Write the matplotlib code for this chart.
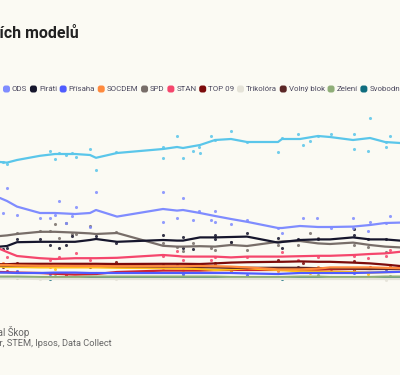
import matplotlib.pyplot as plt
from matplotlib.patches import FancyBboxPatch
from matplotlib.transforms import IdentityTransform

plt.rcParams['font.family'] = ['Roboto', 'DejaVu Sans']

# ---- data: smoothed model averages (%), days from start ----
days = [0, 14, 34, 80, 110, 150, 180, 192, 234, 326, 354, 366, 400,
        430, 462, 494, 556, 564, 600, 636, 660, 706, 740, 770, 800]

ano = [29.75, 29.6, 30.25, 31.3, 31.75, 31.75, 31.5, 30.8, 32.0, 33.0, 33.5, 33.25, 34.0,
       35.25, 35.5, 34.75, 34.75, 35.5, 35.5, 36.25, 36.0, 35.25, 35.75, 34.75, 34.5]
ods = [20.75, 20.0, 18.6, 17.0, 17.0, 16.75, 17.0, 17.75, 16.1, 18.0, 17.6, 17.75, 17.0,
       16.25, 15.5, 14.8, 13.25, 13.25, 13.75, 13.5, 13.5, 13.6, 14.0, 14.5, 14.6]
pirati = [8.6, 8.75, 9.7, 9.8, 9.8, 9.8, 10.25, 10.5, 9.8, 10.25, 10.1, 10.1, 10.9,
          10.9, 11.0, 11.1, 9.6, 9.75, 10.25, 10.4, 10.4, 10.9, 10.4, 10.4, 10.1]
spd = [11.25, 11.4, 11.75, 12.3, 12.3, 12.1, 11.9, 11.75, 12.0, 8.8, 8.6, 8.6, 8.7,
       8.6, 9.0, 8.75, 9.8, 9.9, 10.0, 9.4, 9.25, 9.6, 9.0, 8.6, 8.4]
stan = [8.0, 7.25, 6.25, 5.7, 5.5, 5.7, 5.7, 5.7, 5.8, 6.5, 6.25, 6.1, 6.1,
        6.1, 5.9, 6.1, 6.1, 6.1, 6.2, 6.3, 6.3, 6.5, 6.75, 6.9, 7.3]
top09 = [4.2, 4.2, 4.3, 4.3, 4.3, 4.3, 4.3, 4.3, 4.25, 4.3, 4.3, 4.3, 4.25,
         4.4, 4.6, 4.7, 4.8, 4.8, 4.9, 4.8, 4.8, 4.6, 4.4, 4.1, 3.75]
volny = [3.9, 3.9, 3.9, 3.9, 3.8, 3.8, 3.8, 3.8, 3.7, 3.6, 3.6, 3.6, 3.5,
         3.4, 3.3, 3.3, 3.3, 3.3, 3.3, 3.2, 3.2, 3.1, 3.0, 3.0, 3.0]
socdem = [4.0, 4.0, 3.9, 3.8, 3.8, 3.75, 3.75, 3.75, 3.7, 3.7, 3.7, 3.7, 3.75,
          3.7, 3.6, 3.4, 2.9, 2.9, 2.9, 3.1, 3.4, 3.4, 3.4, 3.3, 3.2]
kdu = [3.6, 3.5, 3.5, 3.4, 3.4, 3.4, 3.4, 3.4, 3.3, 3.2, 3.1, 3.1, 3.0,
       2.75, 2.9, 3.2, 2.75, 2.7, 2.4, 2.3, 2.3, 2.2, 2.1, 2.2, 2.3]
kscm = [2.25, 2.2, 2.1, 2.0, 1.8, 1.6, 1.7, 1.75, 2.25, 2.6, 2.6, 2.6, 2.6,
        2.7, 2.75, 2.75, 2.75, 2.75, 2.8, 2.8, 2.9, 3.0, 3.0, 3.1, 3.25]
prisaha = [2.1, 2.1, 2.0, 2.0, 2.1, 2.1, 2.0, 2.0, 2.0, 2.0, 2.0, 2.0, 2.0,
           2.0, 2.0, 1.9, 1.75, 1.8, 2.0, 2.0, 2.0, 2.0, 2.1, 2.2, 2.3]
zeleni = [1.1, 1.1, 1.1, 1.0, 1.0, 1.0, 1.1, 1.1, 1.1, 1.1, 1.1, 1.1, 1.1,
          1.1, 1.0, 1.0, 1.0, 1.0, 1.1, 1.1, 1.0, 1.0, 1.0, 1.1, 1.1]
svobodni = [0.9, 0.9, 0.8, 0.8, 0.8, 0.8, 0.8, 0.8, 0.8, 0.8, 0.8, 0.8, 0.8,
            0.8, 0.8, 0.8, 0.8, 0.8, 0.8, 0.8, 0.8, 0.9, 0.8, 0.8, 0.8]
trikolora = [0.6, 0.6, 0.6, 0.5, 0.5, 0.5, 0.5, 0.5, 0.5, 0.5, 0.5, 0.5, 0.5,
             0.5, 0.5, 0.5, 0.5, 0.5, 0.5, 0.5, 0.5, 0.5, 0.5, 0.5, 0.5]

# ---- individual polls (day, %) ----
ano_polls = [(6, 29.8), (14, 29.3), (100, 32.6), (110, 30.5), (118, 32.0), (132, 31.5),
             (144, 32.0), (152, 31.0), (180, 33.1), (192, 27.75), (232, 32.3), (326, 33.6),
             (326, 30.8), (354, 36.25), (366, 30.8), (386, 32.6), (398, 33.6), (400, 32.1),
             (422, 36.3), (430, 35.25), (462, 37.5), (494, 34.75), (556, 32.3), (564, 35.75),
             (596, 36.8), (606, 34.1), (620, 35.0), (636, 36.25), (662, 36.8), (708, 36.8),
             (708, 33.0), (736, 32.6), (740, 40.75), (772, 34.75), (772, 33.6), (780, 36.25)]
ods_polls = [(6, 17.0), (14, 23.3), (34, 16.5), (80, 15.8), (100, 15.8), (110, 16.5),
             (118, 20.1), (132, 14.5), (144, 16.25), (152, 18.5), (180, 13.6), (192, 22.3),
             (326, 22.3), (326, 14.75), (354, 15.75), (366, 20.75), (386, 15.25), (398, 17.5),
             (422, 15.25), (430, 17.5), (430, 14.8), (462, 14.2), (494, 15.25), (556, 13.25),
             (564, 12.1), (606, 15.75), (634, 15.75), (662, 13.25), (706, 15.75), (706, 13.25),
             (736, 12.5), (740, 14.75), (772, 14.5), (780, 16.25)]
pirati_polls = [(6, 7.9), (14, 8.2), (34, 10.4), (80, 10.4), (100, 9.0), (118, 8.2),
                (132, 9.0), (144, 11.25), (192, 11.25), (232, 9.4), (326, 11.5), (366, 10.9),
                (366, 8.2), (386, 7.9), (430, 11.5), (430, 10.4), (462, 9.8), (494, 11.9),
                (556, 10.8), (564, 8.2), (596, 10.4), (606, 10.25), (636, 10.4), (708, 12.9),
                (708, 11.5), (736, 10.4), (772, 10.4)]
spd_polls = [(34, 12.1), (80, 12.6), (100, 12.6), (110, 14.25), (118, 10.8), (132, 14.5),
             (144, 11.75), (152, 11.75), (180, 13.8), (232, 12.3), (326, 9.4), (354, 8.6),
             (366, 7.6), (386, 9.4), (422, 8.2), (430, 7.75), (462, 9.8), (494, 7.75),
             (556, 9.0), (596, 9.0), (620, 11.9), (636, 10.7), (708, 9.0), (736, 8.6), (772, 7.3)]
stan_polls = [(14, 6.1), (100, 5.25), (118, 6.1), (152, 7.1), (180, 5.25), (326, 6.25),
              (354, 7.6), (366, 5.25), (422, 5.25), (430, 6.1), (494, 6.1), (564, 7.3),
              (596, 5.25), (636, 6.1), (708, 6.25), (736, 5.7), (772, 6.25), (780, 7.75)]
top09_polls = [(34, 4.6), (118, 3.8), (232, 4.8), (354, 4.0), (430, 4.4), (556, 5.2),
               (606, 4.6), (708, 5.0), (780, 3.9)]
volny_polls = [(6, 3.6), (100, 4.2), (180, 3.5), (326, 3.9), (494, 3.0), (596, 3.6),
               (708, 2.8), (772, 3.3)]
socdem_polls = [(6, 4.5), (100, 3.5), (180, 4.2), (326, 3.3), (430, 4.0), (556, 2.6),
                (636, 3.6), (708, 3.0), (780, 3.9)]
kdu_polls = [(14, 3.9), (110, 3.0), (192, 3.8), (366, 2.8), (462, 2.4), (564, 3.0),
             (620, 2.0), (736, 1.8), (772, 2.7)]
kscm_polls = [(14, 2.6), (132, 1.5), (192, 2.0), (386, 2.9), (462, 2.4), (564, 3.1),
              (662, 2.6), (740, 3.4)]
prisaha_polls = [(34, 2.4), (100, 1.7), (232, 2.3), (366, 1.8), (494, 1.6), (606, 2.2),
                 (708, 1.9), (772, 2.5)]
zeleni_polls = [(34, 0.8), (110, 1.2), (192, 0.9), (366, 1.3), (556, 0.9), (636, 1.4),
                (708, 0.7), (780, 1.2)]
svobodni_polls = [(14, 0.9), (100, 0.5), (118, 1.0), (326, 0.7), (430, 1.1), (564, 0.6),
                  (662, 1.0), (736, 0.8)]
trikolora_polls = [(80, 0.6), (232, 0.4), (494, 0.7), (772, 0.3)]

# label, colour, model line, polls  (legend order)
parties = [
    ('ANO', '#5ac6ea', ano, ano_polls),
    ('ODS', '#7f8cff', ods, ods_polls),
    ('Piráti', '#16162c', pirati, pirati_polls),
    ('Přísaha', '#4f5cff', prisaha, prisaha_polls),
    ('SOCDEM', '#ff8a3d', socdem, socdem_polls),
    ('SPD', '#786e69', spd, spd_polls),
    ('STAN', '#f5466c', stan, stan_polls),
    ('TOP 09', '#7c0b0b', top09, top09_polls),
    ('Trikolóra', '#e5e3d8', trikolora, trikolora_polls),
    ('Volný blok', '#5b2626', volny, volny_polls),
    ('Zelení', '#8fae78', zeleni, zeleni_polls),
    ('Svobodní', '#0f6d7e', svobodni, svobodni_polls),
    ('KDU-ČSL', '#ffc21a', kdu, kdu_polls),
    ('KSČM', '#d0202f', kscm, kscm_polls),
]

title = 'Průměr volebních modelů'
author = 'Autor: Michal Škop'
source = 'Zdroj: Median, NMS, Kantar, STEM, Ipsos, Data Collect'

bg = '#fbfaf3'
W, H = 400, 375

fig = plt.figure(figsize=(W / 100, H / 100), dpi=100, facecolor=bg)
ax = fig.add_axes([0, 85 / H, 1, 190 / H])
ax.set_facecolor('none')
ax.set_xlim(0, 800)
ax.set_ylim(-2.25, 45.25)
ax.axis('off')

# draw small parties first so that big ones sit on top
for name, col, line, polls in reversed(parties):
    px = [p[0] for p in polls]
    py = [p[1] for p in polls]
    ax.scatter(px, py, s=5, color=col, alpha=0.85, lw=0, zorder=2)
for name, col, line, polls in reversed(parties):
    ax.plot(days, line, color=col, lw=1.6, zorder=3, solid_capstyle='round')

# title (cropped on the left like the reference)
fig.text(79 / W, 1 - 34 / H, title, ha='right', va='center', fontsize=11.5,
         fontweight='bold', color='#222222')

# legend drawn by hand: rounded squares + labels
renderer = fig.canvas.get_renderer()
ident = IdentityTransform()
leg_y = H - 89
leg_fs = 5.7


def add_item(x, name, col):
    box = FancyBboxPatch((x, leg_y - 3.5), 7, 7, boxstyle='round,pad=0,rounding_size=2.5',
                         transform=ident, fc=col, ec='none')
    fig.add_artist(box)
    t = fig.text(x + 9, leg_y, name, transform=ident, ha='left', va='center',
                 fontsize=leg_fs, color='#4d4a60')
    return t.get_window_extent(renderer).x1 + 2.7


x = 3
for name, col, line, polls in parties[1:]:
    x = add_item(x, name, col)

# items before ODS fall outside the picture
tmp = fig.text(0, 0, parties[0][0], fontsize=leg_fs)
w = tmp.get_window_extent(renderer).width
tmp.remove()
add_item(3 - 2.7 - w - 9, parties[0][0], parties[0][1])

# footer
fig.text(29 / W, 1 - 332 / H, author, ha='right', va='center', fontsize=7, color='#666666')
fig.text(112 / W, 1 - 343 / H, source, ha='right', va='center', fontsize=6.7, color='#666666')

fig.savefig('out.png', dpi=100, facecolor=bg)
